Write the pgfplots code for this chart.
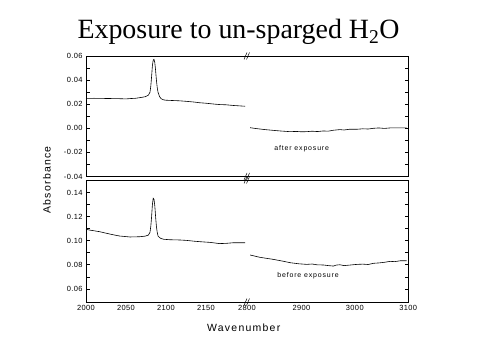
\documentclass[border=0pt]{standalone}
\usepackage{pgfplots}
\pgfplotsset{compat=1.18}
\usepackage{pgfplotstable}
\usepackage{fontspec}
\setmainfont{Liberation Sans}
\newfontfamily\titlefont{Liberation Serif}
\newfontfamily\spacedfont[LetterSpace=12]{Liberation Sans}
\newfontfamily\tickfont[LetterSpace=5]{Liberation Sans}

\pgfplotstableread{
wn a
2000 0.0248
2010 0.0249
2020 0.0248
2030 0.0247
2040 0.0246
2050 0.0244
2056 0.0247
2062 0.0249
2068 0.0255
2074 0.0262
2078 0.0275
2080 0.0300
2081 0.0350
2082 0.0430
2083 0.0520
2084 0.0565
2085 0.0572
2086 0.0545
2087 0.0480
2088 0.0400
2089 0.0340
2090 0.0300
2092 0.0262
2094 0.0245
2097 0.0236
2100 0.0233
2110 0.0230
2117 0.0228
2125 0.0224
2135 0.0218
2142 0.0212
2150 0.0208
2160 0.0201
2167 0.0197
2175 0.0195
2185 0.0189
2192 0.0186
2199 0.0183
}\topleft

\pgfplotstableread{
wn a
2804 0.0005
2815 -0.0002
2830 -0.0010
2847 -0.0017
2860 -0.0022
2879 -0.0028
2890 -0.0026
2900 -0.0029
2910 -0.0028
2920 -0.0024
2930 -0.0027
2941 -0.0022
2950 -0.0024
2960 -0.0016
2972 -0.0011
2980 -0.0014
2990 -0.0008
3004 -0.0008
3015 -0.0004
3025 -0.0006
3035 0.0000
3045 0.0003
3055 -0.0001
3066 0.0003
3080 0.0004
3097 0.0003
}\topright

\pgfplotstableread{
wn a
2000 0.1095
2005 0.1088
2017 0.1075
2026 0.1061
2035 0.1048
2042 0.1039
2055 0.1031
2067 0.1033
2074 0.1038
2078 0.1047
2080 0.1070
2081 0.1120
2082 0.1200
2083 0.1300
2084 0.1353
2085 0.1345
2086 0.1290
2087 0.1200
2088 0.1120
2089 0.1070
2090 0.1040
2092 0.1025
2094 0.1018
2097 0.1012
2105 0.1008
2117 0.1006
2125 0.1003
2135 0.0996
2142 0.0992
2155 0.0986
2167 0.0976
2175 0.0978
2184 0.0983
2199 0.0983
}\bottomleft

\pgfplotstableread{
wn a
2804 0.0881
2822 0.0862
2847 0.0845
2865 0.0830
2879 0.0817
2895 0.0808
2910 0.0803
2920 0.0806
2930 0.0799
2941 0.0798
2950 0.0793
2960 0.0789
2965 0.0797
2972 0.0800
2980 0.0793
2990 0.0797
3004 0.0803
3015 0.0805
3025 0.0802
3035 0.0812
3045 0.0815
3055 0.0820
3066 0.0828
3075 0.0826
3085 0.0833
3097 0.0833
}\bottomright

\tikzset{brk/.style={line width=0.5pt}}
\pgfplotsset{
  panel/.style={
    scale only axis, width=322.2bp, anchor=south west,
    xmin=0, xmax=322.2, clip=false,
    axis line style={line width=0.6pt},
    tick align=inside, tick style={black, line width=0.5pt},
    major tick length=3.5bp, minor tick length=3.5bp,
    xtick={0,40,80,120,161,215.4,268.8,322.2},
    xticklabels={2000,2050,2100,2150,2800,2900,3000,3100},
    xtick style={draw=none},
    minor xtick={20,40,60,80,100,120,140,188.7,215.4,242.1,268.8,295.5},
    minor y tick num=1,
    ticklabel style={font=\tickfont\fontsize{7.5}{8}\selectfont},
    /pgf/number format/assume math mode=true,
    yticklabel style={/pgf/number format/.cd, fixed, fixed zerofill, precision=2},
    scaled y ticks=false,
  },
}

\begin{document}
\begin{tikzpicture}[x=1bp,y=1bp]
\useasboundingbox (0,0) rectangle (480,360);
\begin{axis}[panel, at={(86bp,183.5bp)}, height=120.5bp,
  ymin=-0.04, ymax=0.06, ytick={-0.04,-0.02,0,0.02,0.04,0.06},
  xticklabels={}]
\addplot[black, line width=0.6pt, mark=none] table[x expr=(\thisrowno{0}-2000)*0.8, y index=1] {\topleft};
\addplot[black, line width=0.6pt, mark=none] table[x expr=162+(\thisrowno{0}-2800)*0.534, y index=1] {\topright};
\draw[brk] ([xshift=-3bp,yshift=-3.5bp]axis cs:161,0.06) -- ++(3bp,7bp);
\draw[brk] ([xshift=-0.5bp,yshift=-3.5bp]axis cs:161,0.06) -- ++(3bp,7bp);
\draw[brk] ([xshift=-3bp,yshift=-3.5bp]axis cs:161,-0.04) -- ++(3bp,7bp);
\draw[brk] ([xshift=-0.5bp,yshift=-3.5bp]axis cs:161,-0.04) -- ++(3bp,7bp);
\end{axis}
\begin{axis}[panel, at={(86bp,58bp)}, height=122bp,
  ymin=0.049, ymax=0.1505, ytick={0.06,0.08,0.10,0.12,0.14}]
\addplot[black, line width=0.6pt, mark=none] table[x expr=(\thisrowno{0}-2000)*0.8, y index=1] {\bottomleft};
\addplot[black, line width=0.6pt, mark=none] table[x expr=162+(\thisrowno{0}-2800)*0.534, y index=1] {\bottomright};
\draw[brk] ([xshift=-3bp,yshift=-3.5bp]axis cs:161,0.1505) -- ++(3bp,7bp);
\draw[brk] ([xshift=-0.5bp,yshift=-3.5bp]axis cs:161,0.1505) -- ++(3bp,7bp);
\draw[brk] ([xshift=-3bp,yshift=-3.5bp]axis cs:161,0.049) -- ++(3bp,7bp);
\draw[brk] ([xshift=-0.5bp,yshift=-3.5bp]axis cs:161,0.049) -- ++(3bp,7bp);
\end{axis}
\node at (238.5,328) {\titlefont\fontsize{28}{31}\selectfont Exposure to un-sparged H\textsubscript{2}O};
\node at (243.7,32) {\spacedfont\fontsize{10.5}{12}\selectfont Wavenumber};
\node[rotate=90] at (47,180) {\spacedfont\fontsize{10.5}{12}\selectfont Absorbance};
\node at (301.7,211) {\spacedfont\fontsize{7}{8}\selectfont after exposure};
\node at (308,84) {\spacedfont\fontsize{7}{8}\selectfont before exposure};
\end{tikzpicture}
\end{document}
